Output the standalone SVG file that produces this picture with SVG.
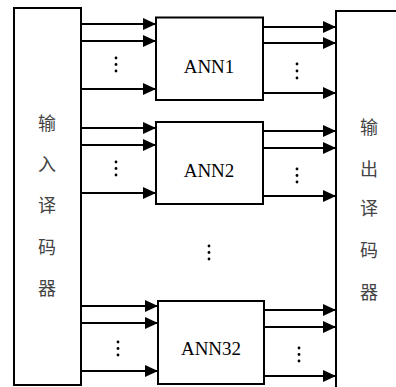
<svg xmlns="http://www.w3.org/2000/svg" width="396" height="387" viewBox="0 0 396 387">
<style>
.box{fill:#fff;stroke:#000;stroke-width:2}
.ln{stroke:#000;stroke-width:2;fill:none}
.lbl{font-family:"Liberation Serif","Times New Roman","DejaVu Serif",serif;font-size:19px;text-anchor:middle;fill:#000}
.zh{font-family:"Liberation Serif","Noto Sans CJK SC",serif;font-size:18px;text-anchor:middle;dominant-baseline:central;fill:#444}
.dot{fill:#000}
</style>
<defs>
<marker id="ah" markerUnits="userSpaceOnUse" markerWidth="14" markerHeight="12" refX="13" refY="6" orient="auto">
<path d="M0,0 L13,6 L0,12 z" fill="#000"/>
</marker>
</defs>
<g id="input-decoder">
<rect class="box" x="14" y="8" width="67" height="377"/>
<text class="zh" x="47" y="124">输</text>
<text class="zh" x="47" y="165">入</text>
<text class="zh" x="47" y="206">译</text>
<text class="zh" x="47" y="248">码</text>
<text class="zh" x="47" y="289">器</text>
</g>
<g id="output-decoder">
<path class="ln" d="M336,387 V11 H396"/>
<text class="zh" x="369" y="128">输</text>
<text class="zh" x="369" y="170">出</text>
<text class="zh" x="369" y="209">译</text>
<text class="zh" x="369" y="251">码</text>
<text class="zh" x="369" y="293">器</text>
</g>
<g id="ann1">
<rect class="box" x="156" y="17.5" width="107" height="82.5"/>
<text class="lbl" x="209" y="73" font-family="Liberation Serif, serif">ANN1</text>
</g>
<g id="ann2">
<rect class="box" x="156" y="122" width="107" height="82"/>
<text class="lbl" x="209" y="177" font-family="Liberation Serif, serif">ANN2</text>
</g>
<g id="ann32">
<rect class="box" x="158" y="301" width="106" height="83"/>
<text class="lbl" x="211" y="355" font-family="Liberation Serif, serif">ANN32</text>
</g>
<g id="connectors">
<line class="ln" x1="81" y1="24" x2="156" y2="24" marker-end="url(#ah)"/>
<line class="ln" x1="81" y1="41" x2="156" y2="41" marker-end="url(#ah)"/>
<line class="ln" x1="81" y1="89" x2="156" y2="89" marker-end="url(#ah)"/>
<line class="ln" x1="81" y1="128" x2="156" y2="128" marker-end="url(#ah)"/>
<line class="ln" x1="81" y1="145" x2="156" y2="145" marker-end="url(#ah)"/>
<line class="ln" x1="81" y1="193" x2="156" y2="193" marker-end="url(#ah)"/>
<line class="ln" x1="81" y1="306" x2="158" y2="306" marker-end="url(#ah)"/>
<line class="ln" x1="81" y1="323" x2="158" y2="323" marker-end="url(#ah)"/>
<line class="ln" x1="81" y1="371" x2="158" y2="371" marker-end="url(#ah)"/>
<line class="ln" x1="263" y1="27" x2="336" y2="27" marker-end="url(#ah)"/>
<line class="ln" x1="263" y1="43" x2="336" y2="43" marker-end="url(#ah)"/>
<line class="ln" x1="263" y1="93" x2="336" y2="93" marker-end="url(#ah)"/>
<line class="ln" x1="263" y1="131" x2="336" y2="131" marker-end="url(#ah)"/>
<line class="ln" x1="263" y1="148" x2="336" y2="148" marker-end="url(#ah)"/>
<line class="ln" x1="263" y1="196" x2="336" y2="196" marker-end="url(#ah)"/>
<line class="ln" x1="264" y1="310" x2="336" y2="310" marker-end="url(#ah)"/>
<line class="ln" x1="264" y1="327" x2="336" y2="327" marker-end="url(#ah)"/>
<line class="ln" x1="264" y1="376" x2="336" y2="376" marker-end="url(#ah)"/>
</g>
<g id="ellipses">
<circle class="dot" cx="116" cy="58" r="1.4"/><circle class="dot" cx="116" cy="64.5" r="1.4"/><circle class="dot" cx="116" cy="71" r="1.4"/>
<circle class="dot" cx="297" cy="64" r="1.4"/><circle class="dot" cx="297" cy="71" r="1.4"/><circle class="dot" cx="297" cy="78" r="1.4"/>
<circle class="dot" cx="116" cy="162" r="1.4"/><circle class="dot" cx="116" cy="168.5" r="1.4"/><circle class="dot" cx="116" cy="175" r="1.4"/>
<circle class="dot" cx="297" cy="169" r="1.4"/><circle class="dot" cx="297" cy="175.5" r="1.4"/><circle class="dot" cx="297" cy="182" r="1.4"/>
<circle class="dot" cx="209" cy="246" r="1.4"/><circle class="dot" cx="209" cy="252.5" r="1.4"/><circle class="dot" cx="209" cy="259" r="1.4"/>
<circle class="dot" cx="118" cy="342" r="1.4"/><circle class="dot" cx="118" cy="348.5" r="1.4"/><circle class="dot" cx="118" cy="355" r="1.4"/>
<circle class="dot" cx="299" cy="348" r="1.4"/><circle class="dot" cx="299" cy="354.5" r="1.4"/><circle class="dot" cx="299" cy="361" r="1.4"/>
</g>
</svg>
